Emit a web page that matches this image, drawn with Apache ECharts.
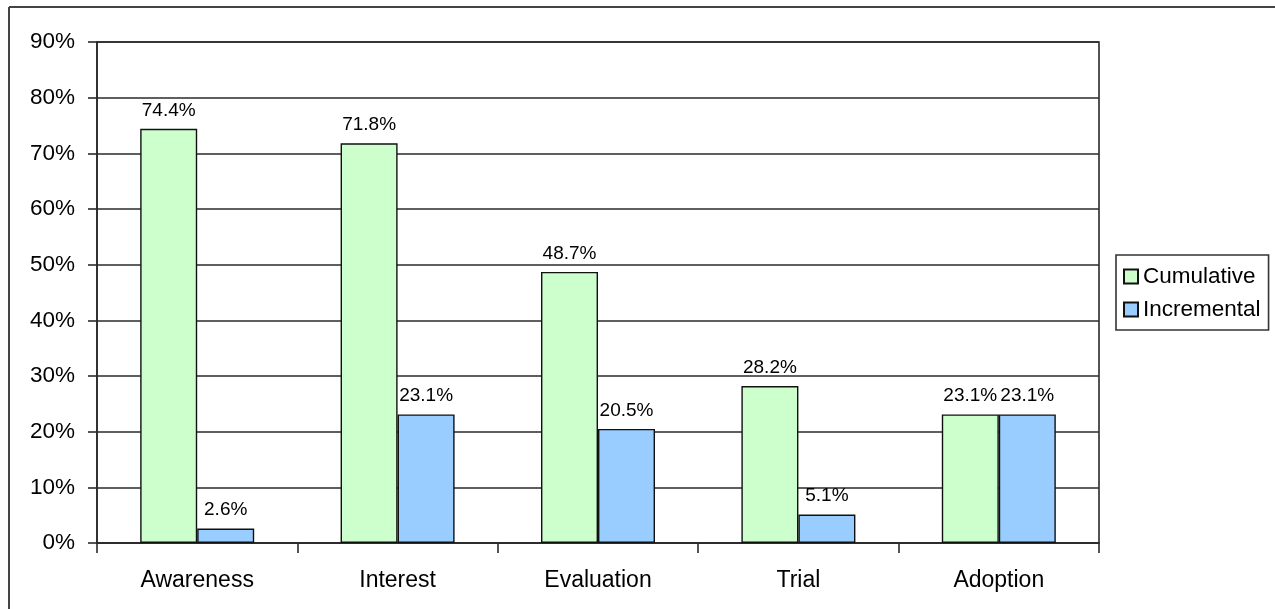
<!DOCTYPE html>
<html>
<head>
<meta charset="utf-8">
<script src="https://cdn.jsdelivr.net/npm/echarts@6/dist/echarts.min.js"></script>
<style>
html,body{margin:0;padding:0;background:#fff;}
#chart{width:1275px;height:609px;}
</style>
</head>
<body>
<div id="chart"></div>
<script>
const categories = ['Awareness', 'Interest', 'Evaluation', 'Trial', 'Adoption'];
const cumulative = [74.4, 71.8, 48.7, 28.2, 23.1];
const incremental = [2.6, 23.1, 20.5, 5.1, 23.1];
const seriesNames = ['Cumulative', 'Incremental'];
const yTicks = { min: 0, max: 90, interval: 10 };

const FONT = "'Liberation Sans', Arial, sans-serif";
const chart = echarts.init(document.getElementById('chart'), null, { renderer: 'canvas' });

const labelCfg = {
  show: true,
  position: 'top',
  distance: 9,
  color: '#000',
  fontFamily: FONT,
  fontSize: 19,
  formatter: p => p.value.toFixed(1) + '%'
};

chart.setOption({
  animation: false,
  backgroundColor: '#fff',
  grid: {
    left: 97, right: 176, top: 42, bottom: 66,
    show: true, borderColor: '#2a2a2a', borderWidth: 1.6, backgroundColor: 'transparent'
  },
  legend: {
    orient: 'vertical',
    left: 1116, top: 255,
    padding: [10, 8, 9, 7],
    itemGap: 10,
    itemWidth: 14, itemHeight: 14,
    itemTextGap: 5,
    borderColor: '#333', borderWidth: 1.6,
    icon: 'rect',
    textStyle: { fontFamily: FONT, fontSize: 22.5, color: '#000' },
    data: seriesNames
  },
  xAxis: {
    type: 'category',
    data: categories,
    axisLine: { show: true, lineStyle: { color: '#2a2a2a', width: 1.6 } },
    axisTick: { show: true, alignWithLabel: false, length: 10, lineStyle: { color: '#2a2a2a', width: 1.6 } },
    axisLabel: { color: '#000', fontFamily: FONT, fontSize: 23, margin: 26 },
    splitLine: { show: false }
  },
  yAxis: {
    type: 'value',
    min: yTicks.min, max: yTicks.max, interval: yTicks.interval,
    axisLine: { show: true, lineStyle: { color: '#2a2a2a', width: 1.6 } },
    axisTick: { show: true, inside: false, length: 9, lineStyle: { color: '#2a2a2a', width: 1.6 } },
    axisLabel: { color: '#000', fontFamily: FONT, fontSize: 22.5, margin: 22, formatter: v => v + '%' },
    splitLine: { show: true, lineStyle: { color: '#2a2a2a', width: 1.6 } }
  },
  series: [
    {
      name: seriesNames[0], type: 'bar', data: cumulative,
      barWidth: 57, barGap: '0%',
      itemStyle: { color: '#CCFFCC', borderColor: '#111', borderWidth: 1.4 },
      label: labelCfg
    },
    {
      name: seriesNames[1], type: 'bar', data: incremental,
      barWidth: 57, barGap: '0%',
      itemStyle: { color: '#99CCFF', borderColor: '#111', borderWidth: 1.4 },
      label: labelCfg
    }
  ],
  graphic: [
    { type: 'line', shape: { x1: 9, y1: 7, x2: 1275, y2: 7 }, style: { stroke: '#444', lineWidth: 2 } },
    { type: 'line', shape: { x1: 9, y1: 7, x2: 9, y2: 609 }, style: { stroke: '#444', lineWidth: 2 } }
  ]
});
</script>
</body>
</html>
